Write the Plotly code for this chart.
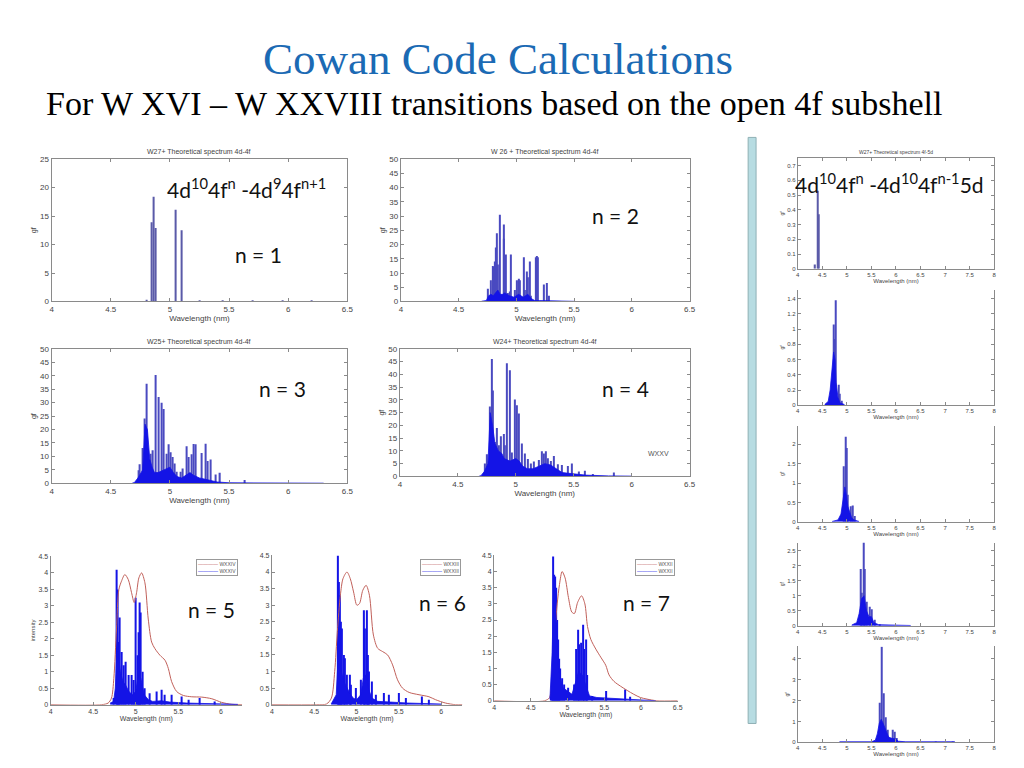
import plotly.graph_objects as go

W, H = 1024, 768

# ---------------- data ----------------
# n = 1 : W27+  4d-4f
n1_wl = [4.80, 4.846, 4.866, 4.883, 5.047, 5.10, 5.25, 5.45, 5.70, 5.95, 6.20]
n1_gf = [0.3, 13.9, 18.4, 12.9, 16.1, 12.5, 0.1, 0.1, 0.15, 0.1, 0.1]

# n = 2 : W26+  4d-4f
n2_wl = [4.757, 4.777, 4.797, 4.809, 4.814, 4.820, 4.829, 4.843, 4.857, 4.871, 4.889, 4.891,
         4.909, 4.923, 4.946, 4.954, 4.986, 5.009, 5.023, 5.034, 5.063, 5.071, 5.089, 5.100,
         5.117, 5.129, 5.166, 5.177, 5.189, 5.237, 5.263, 5.286]
n2_gf = [4.5, 7.5, 12.5, 12.1, 14.0, 19.0, 24.0, 13.0, 30.5, 2.0, 27.0, 22.0,
         16.5, 3.0, 3.5, 16.5, 4.0, 7.5, 8.0, 7.5, 15.5, 4.0, 10.5, 8.5,
         14.0, 2.0, 15.5, 16.0, 15.5, 6.0, 6.5, 2.0]
n2_base_wl = [4.70, 4.74, 4.76, 4.78, 4.80, 4.82, 4.84, 4.86, 4.88, 4.90, 4.94, 4.98, 5.02,
              5.06, 5.10, 5.13, 5.16, 5.20, 5.30, 5.50]
n2_base_gf = [0.1, 0.3, 2.0, 2.5, 2.0, 3.0, 4.0, 2.5, 2.5, 3.0, 2.0, 1.5, 2.5,
              1.5, 2.5, 1.0, 0.3, 0.3, 0.2, 0.05]

# n = 3 : W25+  4d-4f
n3_wl = [4.735, 4.746, 4.774, 4.788, 4.802, 4.813, 4.838, 4.858, 4.883, 4.905, 4.927, 4.950,
         4.969, 4.986, 5.008, 5.020, 5.039, 5.061, 5.089, 5.106, 5.145, 5.162, 5.187, 5.200,
         5.215, 5.271, 5.299, 5.321, 5.341, 5.383, 5.425, 5.634]
n3_gf = [4.9, 7.1, 13.1, 24.1, 37.0, 8.6, 11.0, 12.3, 40.3, 32.1, 30.0, 27.6,
         11.0, 14.5, 11.6, 9.8, 7.4, 4.3, 4.3, 5.5, 13.8, 9.8, 10.8, 14.6,
         14.5, 11.3, 14.7, 8.3, 8.9, 3.3, 3.9, 1.2]
n3_base_wl = [4.68, 4.70, 4.73, 4.77, 4.79, 4.81, 4.83, 4.85, 4.87, 4.90, 4.95, 5.00, 5.03,
              5.06, 5.10, 5.14, 5.17, 5.20, 5.25, 5.30, 5.35, 5.40, 5.50, 6.00, 6.30]
n3_base_gf = [0.0, 0.3, 2.0, 5.0, 22.0, 20.0, 9.0, 6.0, 4.0, 4.0, 5.0, 6.0, 4.0,
              2.5, 2.0, 3.0, 4.0, 3.0, 2.0, 1.5, 1.0, 0.5, 0.2, 0.1, 0.05]

# n = 4 : W24+  4d-4f
n4_wl = [4.733, 4.755, 4.775, 4.790, 4.801, 4.818, 4.841, 4.858, 4.875, 4.895, 4.906, 4.924,
         4.946, 4.966, 4.989, 5.012, 5.029, 5.052, 5.075, 5.103, 5.132, 5.160, 5.203, 5.226,
         5.246, 5.263, 5.280, 5.303, 5.331, 5.360, 5.402, 5.451, 5.488, 5.545, 5.596, 5.665, 5.844]
n4_gf = [5.1, 8.7, 27.4, 46.0, 33.7, 13.5, 19.0, 12.2, 15.7, 16.6, 12.2, 44.4,
         41.6, 9.4, 30.2, 27.9, 24.7, 12.9, 9.0, 6.8, 5.1, 5.8, 6.4, 9.9,
         9.0, 9.9, 7.1, 6.0, 8.0, 4.8, 4.5, 4.1, 5.1, 1.9, 2.2, 0.9, 1.5]
n4_base_wl = [4.68, 4.70, 4.73, 4.76, 4.78, 4.80, 4.82, 4.85, 4.88, 4.90, 4.95, 5.00, 5.03,
              5.06, 5.10, 5.15, 5.20, 5.25, 5.30, 5.35, 5.40, 5.50, 5.60, 5.80, 6.00]
n4_base_gf = [0.0, 0.3, 2.0, 5.0, 25.0, 20.0, 13.0, 10.0, 9.0, 7.0, 6.0, 7.0, 6.0,
              4.0, 3.0, 3.0, 4.0, 5.0, 4.5, 3.0, 1.5, 1.0, 0.5, 0.2, 0.1]

# n = 5 : W XXIV (intensity)
n5_wl = [4.743, 4.774, 4.786, 4.794, 4.813, 4.840, 4.864, 4.880, 4.912, 4.951, 4.970, 4.998,
         5.018, 5.029, 5.041, 5.061, 5.080, 5.108, 5.167, 5.246, 5.305, 5.344, 5.422, 5.540,
         5.619, 5.756, 5.933]
n5_gf = [0.2, 4.1, 3.5, 1.9, 2.65, 1.6, 1.2, 1.3, 0.9, 0.9, 0.75, 3.25,
         1.5, 2.2, 3.1, 2.8, 1.0, 0.5, 0.35, 0.4, 0.45, 0.3, 0.3, 0.25,
         0.15, 0.2, 0.1]
n5_base_wl = [4.70, 4.74, 4.76, 4.78, 4.80, 4.82, 4.85, 4.88, 4.92, 4.96, 5.00, 5.03, 5.06,
              5.10, 5.15, 5.20, 5.30, 5.40, 5.60, 6.00, 6.20]
n5_base_gf = [0.05, 0.1, 0.5, 1.6, 1.4, 1.0, 0.7, 0.6, 0.4, 0.3, 0.4, 0.9, 0.8,
              0.3, 0.15, 0.1, 0.12, 0.08, 0.05, 0.02, 0.01]
n5_env_wl = [4.00, 4.60, 4.676, 4.715, 4.743, 4.774, 4.802, 4.833, 4.872, 4.912, 4.951, 4.982,
             5.010, 5.037, 5.069, 5.108, 5.147, 5.187, 5.226, 5.285, 5.344, 5.383, 5.422,
             5.481, 5.560, 5.658, 5.776, 5.894, 6.010, 6.130, 6.250]
n5_env = [0.0, 0.0, 0.05, 0.2, 0.8, 2.3, 3.5, 3.75, 3.95, 3.8, 3.4, 3.1,
          3.4, 3.85, 4.0, 3.7, 2.6, 1.9, 1.7, 1.5, 1.35, 1.1, 0.7,
          0.4, 0.28, 0.24, 0.23, 0.18, 0.07, 0.01, 0.0]

# n = 6 : W XXIII
n6_wl = [4.781, 4.793, 4.801, 4.816, 4.824, 4.848, 4.863, 4.887, 4.918, 4.937, 4.988, 5.051,
         5.086, 5.102, 5.117, 5.133, 5.152, 5.176, 5.230, 5.328, 5.387, 5.504, 5.582, 5.777, 5.855]
n6_gf = [4.5, 3.7, 3.3, 2.5, 2.3, 1.5, 1.4, 0.9, 0.9, 0.6, 0.5, 0.75,
         2.85, 2.3, 2.85, 1.5, 1.0, 0.7, 0.3, 0.35, 0.3, 0.35, 0.2, 0.25, 0.15]
n6_base_wl = [4.70, 4.76, 4.78, 4.80, 4.82, 4.85, 4.88, 4.92, 4.96, 5.00, 5.05, 5.08, 5.11,
              5.14, 5.18, 5.25, 5.40, 5.60, 6.00]
n6_base_gf = [0.02, 0.3, 1.3, 1.2, 1.0, 0.7, 0.55, 0.35, 0.2, 0.15, 0.3, 0.8, 0.9,
              0.5, 0.2, 0.1, 0.08, 0.05, 0.02]
n6_env_wl = [4.00, 4.527, 4.645, 4.703, 4.742, 4.773, 4.809, 4.840, 4.887, 4.926, 4.965, 5.004,
             5.035, 5.074, 5.113, 5.152, 5.199, 5.250, 5.309, 5.367, 5.426, 5.484, 5.543,
             5.621, 5.738, 5.855, 5.934, 6.050, 6.168, 6.250]
n6_env = [0.0, 0.0, 0.02, 0.2, 1.0, 2.2, 3.3, 3.8, 4.0, 3.8, 3.4, 3.0,
          3.05, 3.45, 3.6, 3.3, 2.1, 1.7, 1.6, 1.5, 1.2, 0.75, 0.5,
          0.37, 0.3, 0.24, 0.15, 0.05, 0.0, 0.0]

# n = 7 : W XXII
n7_wl = [4.787, 4.800, 4.814, 4.827, 4.841, 4.854, 4.868, 4.886, 4.904, 4.926, 4.958, 5.003,
         5.093, 5.124, 5.147, 5.165, 5.187, 5.210, 5.227, 5.250, 5.272, 5.340, 5.520, 5.790, 5.857]
n7_gf = [0.3, 4.47, 3.9, 3.85, 3.5, 2.5, 1.9, 1.3, 1.0, 0.7, 0.5, 0.4,
         0.5, 1.6, 2.2, 1.75, 1.8, 2.35, 1.6, 1.9, 0.8, 0.15, 0.3, 0.35, 0.12]
n7_base_wl = [4.76, 4.79, 4.81, 4.83, 4.85, 4.87, 4.90, 4.94, 5.00, 5.06, 5.10, 5.15, 5.20,
              5.25, 5.30, 5.40, 5.60, 5.90, 6.20]
n7_base_gf = [0.05, 1.5, 3.4, 3.3, 2.0, 1.2, 0.7, 0.4, 0.3, 0.2, 0.5, 0.9, 0.8,
              0.5, 0.15, 0.1, 0.08, 0.05, 0.0]
n7_env_wl = [4.00, 4.688, 4.755, 4.787, 4.823, 4.859, 4.890, 4.926, 4.967, 5.012, 5.057, 5.093,
             5.138, 5.191, 5.236, 5.272, 5.317, 5.385, 5.452, 5.520, 5.565, 5.632, 5.722,
             5.812, 5.902, 5.992, 6.082, 6.217, 6.500]
n7_env = [0.0, 0.0, 0.1, 0.8, 2.0, 3.0, 3.6, 4.0, 3.8, 3.2, 2.75, 2.7,
          3.05, 3.25, 3.0, 2.3, 1.9, 1.6, 1.35, 1.1, 0.8, 0.6, 0.45,
          0.32, 0.2, 0.1, 0.05, 0.0, 0.0]

# 4f-5d column
r1_wl = [4.357, 4.405, 4.430]
r1_gf = [0.03, 0.53, 0.37]
r2_wl = [4.708, 4.728, 4.756, 4.776, 4.830, 4.863, 4.900]
r2_gf = [0.33, 1.06, 0.87, 1.38, 0.27, 0.15, 0.06]
r2_base_wl = [4.55, 4.62, 4.66, 4.70, 4.73, 4.76, 4.78, 4.82, 4.86, 4.95]
r2_base_gf = [0.01, 0.05, 0.2, 0.5, 0.7, 0.6, 0.3, 0.1, 0.03, 0.01]
r3_wl = [4.931, 4.978, 4.998, 5.019, 5.086, 5.120, 5.170]
r3_gf = [1.43, 2.19, 1.9, 0.7, 0.4, 0.42, 0.15]
r3_base_wl = [4.70, 4.82, 4.88, 4.92, 4.96, 4.99, 5.02, 5.06, 5.10, 5.15, 5.25]
r3_base_gf = [0.01, 0.05, 0.2, 0.5, 0.9, 0.7, 0.4, 0.25, 0.1, 0.05, 0.01]
r4_wl = [5.282, 5.309, 5.336, 5.363, 5.400, 5.470, 5.500, 5.570, 5.670]
r4_gf = [1.9, 1.1, 2.78, 1.9, 0.8, 0.63, 0.55, 0.2, 0.05]
r4_base_wl = [5.10, 5.20, 5.25, 5.30, 5.35, 5.40, 5.45, 5.50, 5.55, 5.65, 6.30]
r4_base_gf = [0.02, 0.1, 0.4, 0.9, 1.0, 0.5, 0.3, 0.3, 0.1, 0.03, 0.005]
r5_wl = [5.673, 5.707, 5.760, 5.794, 5.840, 5.940, 5.977, 6.010, 6.820, 7.160]
r5_gf = [1.9, 4.58, 2.35, 1.2, 0.6, 0.6, 0.5, 0.2, 0.02, 0.03]
r5_base_wl = [4.85, 5.50, 5.58, 5.62, 5.66, 5.70, 5.74, 5.80, 5.85, 5.90, 6.00, 6.05, 6.20, 7.20]
r5_base_gf = [0.02, 0.02, 0.1, 0.4, 0.9, 1.1, 0.9, 0.5, 0.25, 0.2, 0.15, 0.05, 0.02, 0.02]

# legend names of the n = 5, 6, 7 panels
legend_names = ["WXXIV", "WXXIII", "WXXII"]

# tick labels
ticks_4_65 = [4, 4.5, 5, 5.5, 6, 6.5]
ticks_4_6 = [4, 4.5, 5, 5.5, 6]
ticks_4_8 = [4, 4.5, 5, 5.5, 6, 6.5, 7, 7.5, 8]

# ---------------- layout helpers ----------------
BLUE = "#1414e6"
LINEBLUE = "#4a4ac0"
RED = "#c0605a"
AXC = "#8a8a8a"

fig = go.Figure()
layout = dict(width=W, height=H, margin=dict(l=0, r=0, t=0, b=0),
              paper_bgcolor="white", plot_bgcolor="white", showlegend=False,
              barmode="overlay", annotations=[], shapes=[])


def px(x):
    return x / W


def py(y):
    return 1 - y / H


def add_panel(idx, box, xr, yr, xt, yt, ylab, box_all, fs=8, mirror_y=True):
    x0, y0, x1, y1 = box
    xa = "xaxis" if idx == 1 else f"xaxis{idx}"
    ya = "yaxis" if idx == 1 else f"yaxis{idx}"
    ref = "" if idx == 1 else str(idx)
    tf = dict(size=fs, color="#444", family="Liberation Sans")
    layout[xa] = dict(domain=[px(x0), px(x1)], range=xr, anchor="y" + ref,
                      tickvals=xt, ticks="inside", ticklen=3, tickcolor=AXC,
                      showline=True, linecolor=AXC, linewidth=1, mirror="ticks" if box_all else False,
                      showgrid=False, zeroline=False, tickfont=tf,
                      title=dict(text="Wavelength (nm)", font=tf, standoff=0))
    layout[ya] = dict(domain=[py(y1), py(y0)], range=yr, anchor="x" + ref,
                      tickvals=yt, ticks="inside", ticklen=3, tickcolor=AXC,
                      showline=True, linecolor=AXC, linewidth=1,
                      mirror=("ticks" if (box_all or mirror_y) else False),
                      showgrid=False, zeroline=False, tickfont=tf,
                      title=dict(text=ylab, font=dict(size=fs - 1, color="#444", family="Liberation Sans"), standoff=2))
    return "x" + ref, "y" + ref, (xr[1] - xr[0]) / (x1 - x0)


def sticks(xa, ya, wl, gf, upp, color=LINEBLUE, widthpx=1.1):
    fig.add_trace(go.Bar(x=wl, y=gf, width=upp * widthpx, xaxis=xa, yaxis=ya,
                         marker=dict(color=color, line=dict(width=0)), hoverinfo="skip"))


def base(xa, ya, wl, gf):
    fig.add_trace(go.Scatter(x=wl, y=gf, xaxis=xa, yaxis=ya, mode="lines", fill="tozeroy",
                             line=dict(color=BLUE, width=0.8), fillcolor=BLUE, hoverinfo="skip"))


def env(xa, ya, wl, v, name):
    fig.add_trace(go.Scatter(x=wl, y=v, xaxis=xa, yaxis=ya, mode="lines", name=name,
                             line=dict(color=RED, width=1, shape="spline", smoothing=0.8),
                             hoverinfo="skip"))


def text(x, y, s, size, color="#111", family="Lato", xanchor="center", yanchor="middle"):
    layout["annotations"].append(dict(x=px(x), y=py(y), xref="paper", yref="paper", text=s,
                                      showarrow=False, font=dict(size=size, color=color, family=family),
                                      xanchor=xanchor, yanchor=yanchor))


def legend_box(x_right, y_top, name):
    # compact MATLAB-style legend: red model curve and blue computed spectrum
    s = (f"<span style='color:{RED}'>\u2014\u2014\u2014\u2014</span> {name}<br>"
         f"<span style='color:{BLUE}'>\u2014\u2014\u2014\u2014</span> {name}")
    layout["annotations"].append(dict(x=px(x_right), y=py(y_top), xref="paper", yref="paper", text=s,
                                      showarrow=False, align="left", xanchor="right", yanchor="top",
                                      font=dict(size=5, color="#555", family="Liberation Sans"),
                                      bgcolor="white", bordercolor="#999", borderwidth=1, borderpad=1))


yt50 = list(range(0, 51, 5))

# n = 1
xa, ya, u = add_panel(1, (50, 157, 348, 301), [4, 6.5], [0, 25], ticks_4_65, list(range(0, 26, 5)), "gf", True)
sticks(xa, ya, n1_wl, n1_gf, u, color="#5a5aa8")
# n = 2
xa, ya, u = add_panel(2, (402, 157, 693, 301), [4, 6.5], [0, 50], ticks_4_65, yt50, "gf", True)
base(xa, ya, n2_base_wl, n2_base_gf)
sticks(xa, ya, n2_wl, n2_gf, u)
# n = 3
xa, ya, u = add_panel(3, (50, 349, 348, 485), [4, 6.5], [0, 50], ticks_4_65, yt50, "gf", True)
base(xa, ya, n3_base_wl, n3_base_gf)
sticks(xa, ya, n3_wl, n3_gf, u)
# n = 4
xa, ya, u = add_panel(4, (401, 349, 693, 478), [4, 6.5], [0, 50], ticks_4_65, yt50, "gf", True)
base(xa, ya, n4_base_wl, n4_base_gf)
sticks(xa, ya, n4_wl, n4_gf, u)
layout["annotations"].append(dict(x=6.23, y=9, xref="x4", yref="y4", text="WXXV", showarrow=False,
                                  font=dict(size=7, color="#555", family="Liberation Sans")))

yt45 = [0, 0.5, 1, 1.5, 2, 2.5, 3, 3.5, 4, 4.5]
# n = 5
xa, ya, u = add_panel(5, (49, 559, 242, 709), [4, 6.25], [0, 4.5], ticks_4_6, yt45, "intensity", False, fs=7, mirror_y=False)
env(xa, ya, n5_env_wl, n5_env, legend_names[0])
base(xa, ya, n5_base_wl, n5_base_gf)
sticks(xa, ya, n5_wl, n5_gf, u, color=BLUE)
legend_box(238, 562, legend_names[0])
# n = 6
xa, ya, u = add_panel(6, (272, 558, 464, 709), [4, 6.25], [0, 4.5], ticks_4_6, yt45, "", False, fs=7, mirror_y=False)
env(xa, ya, n6_env_wl, n6_env, legend_names[1])
base(xa, ya, n6_base_wl, n6_base_gf)
sticks(xa, ya, n6_wl, n6_gf, u, color=BLUE)
legend_box(463, 562, legend_names[1])
# n = 7
xa, ya, u = add_panel(7, (496, 558, 681, 705), [4, 6.5], [0, 4.5], ticks_4_65, yt45, "", False, fs=7, mirror_y=False)
env(xa, ya, n7_env_wl, n7_env, legend_names[2])
base(xa, ya, n7_base_wl, n7_base_gf)
sticks(xa, ya, n7_wl, n7_gf, u, color=BLUE)
legend_box(678, 562, legend_names[2])

# right column
xa, ya, u = add_panel(8, (802, 156, 1000, 268), [4, 8], [0, 0.75], ticks_4_8,
                      [0, 0.1, 0.2, 0.3, 0.4, 0.5, 0.6, 0.7], "gf", True, fs=6)
sticks(xa, ya, r1_wl, r1_gf, u, color="#5a5aa8")
xa, ya, u = add_panel(9, (802, 289, 1000, 406), [4, 8], [0, 1.52], ticks_4_8,
                      [0, 0.2, 0.4, 0.6, 0.8, 1, 1.2, 1.4], "gf", False, fs=6)
base(xa, ya, r2_base_wl, r2_base_gf)
sticks(xa, ya, r2_wl, r2_gf, u)
xa, ya, u = add_panel(10, (802, 427, 1000, 524), [4, 8], [0, 2.47], ticks_4_8,
                      [0, 0.5, 1, 1.5, 2], "gf", False, fs=6)
base(xa, ya, r3_base_wl, r3_base_gf)
sticks(xa, ya, r3_wl, r3_gf, u)
xa, ya, u = add_panel(11, (802, 545, 1000, 629), [4, 8], [0, 2.78], ticks_4_8,
                      [0, 0.5, 1, 1.5, 2, 2.5], "gf", False, fs=6)
base(xa, ya, r4_base_wl, r4_base_gf)
sticks(xa, ya, r4_wl, r4_gf, u)
xa, ya, u = add_panel(12, (802, 650, 1000, 747), [4, 8], [0, 4.6], ticks_4_8,
                      [0, 1, 2, 3, 4], "gf", False, fs=6)
base(xa, ya, r5_base_wl, r5_base_gf)
sticks(xa, ya, r5_wl, r5_gf, u)

# small panel titles
text(199, 150, "W27+ Theoretical spectrum 4d-4f", 7, color="#444", family="Liberation Sans")
text(547, 150, "W 26 + Theoretical spectrum 4d-4f", 7, color="#444", family="Liberation Sans")
text(199, 342, "W25+ Theoretical spectrum 4d-4f", 7, color="#444", family="Liberation Sans")
text(547, 342, "W24+ Theoretical spectrum 4d-4f", 7, color="#444", family="Liberation Sans")
text(901, 150, "W27+ Theoretical spectrum 4f-5d", 5, color="#444", family="Liberation Sans")

# slide text
text(500, 56, "Cowan Code Calculations", 45, color="#1b6ab4", family="Liberation Serif")
text(496, 101, "For W XVI \u2013 W XXVIII transitions based on the open 4f subshell", 34,
     color="#000", family="Liberation Serif")
text(246, 186, "4d<sup>10</sup>4f<sup>n</sup> -4d<sup>9</sup>4f<sup>n+1</sup>", 21)
text(259, 253, "n = 1", 21)
text(618, 214, "n = 2", 21)
text(283, 389, "n = 3", 21)
text(628, 389, "n = 4", 21)
text(211, 613, "n = 5", 21)
text(444, 606, "n = 6", 21)
text(650, 606, "n = 7", 21)
text(894, 181, "4d<sup>10</sup>4f<sup>n</sup> -4d<sup>10</sup>4f<sup>n-1</sup>5d", 21)

# vertical separator bar
layout["shapes"].append(dict(type="rect", xref="paper", yref="paper", x0=px(752), x1=px(760),
                             y0=py(728), y1=py(135), fillcolor="#b7dce2",
                             line=dict(color="#8fb0b5", width=1), layer="below"))

fig.update_layout(**layout)
fig.write_html("out.html", config={"displayModeBar": False},
               post_script="document.body.style.margin='0px';")
